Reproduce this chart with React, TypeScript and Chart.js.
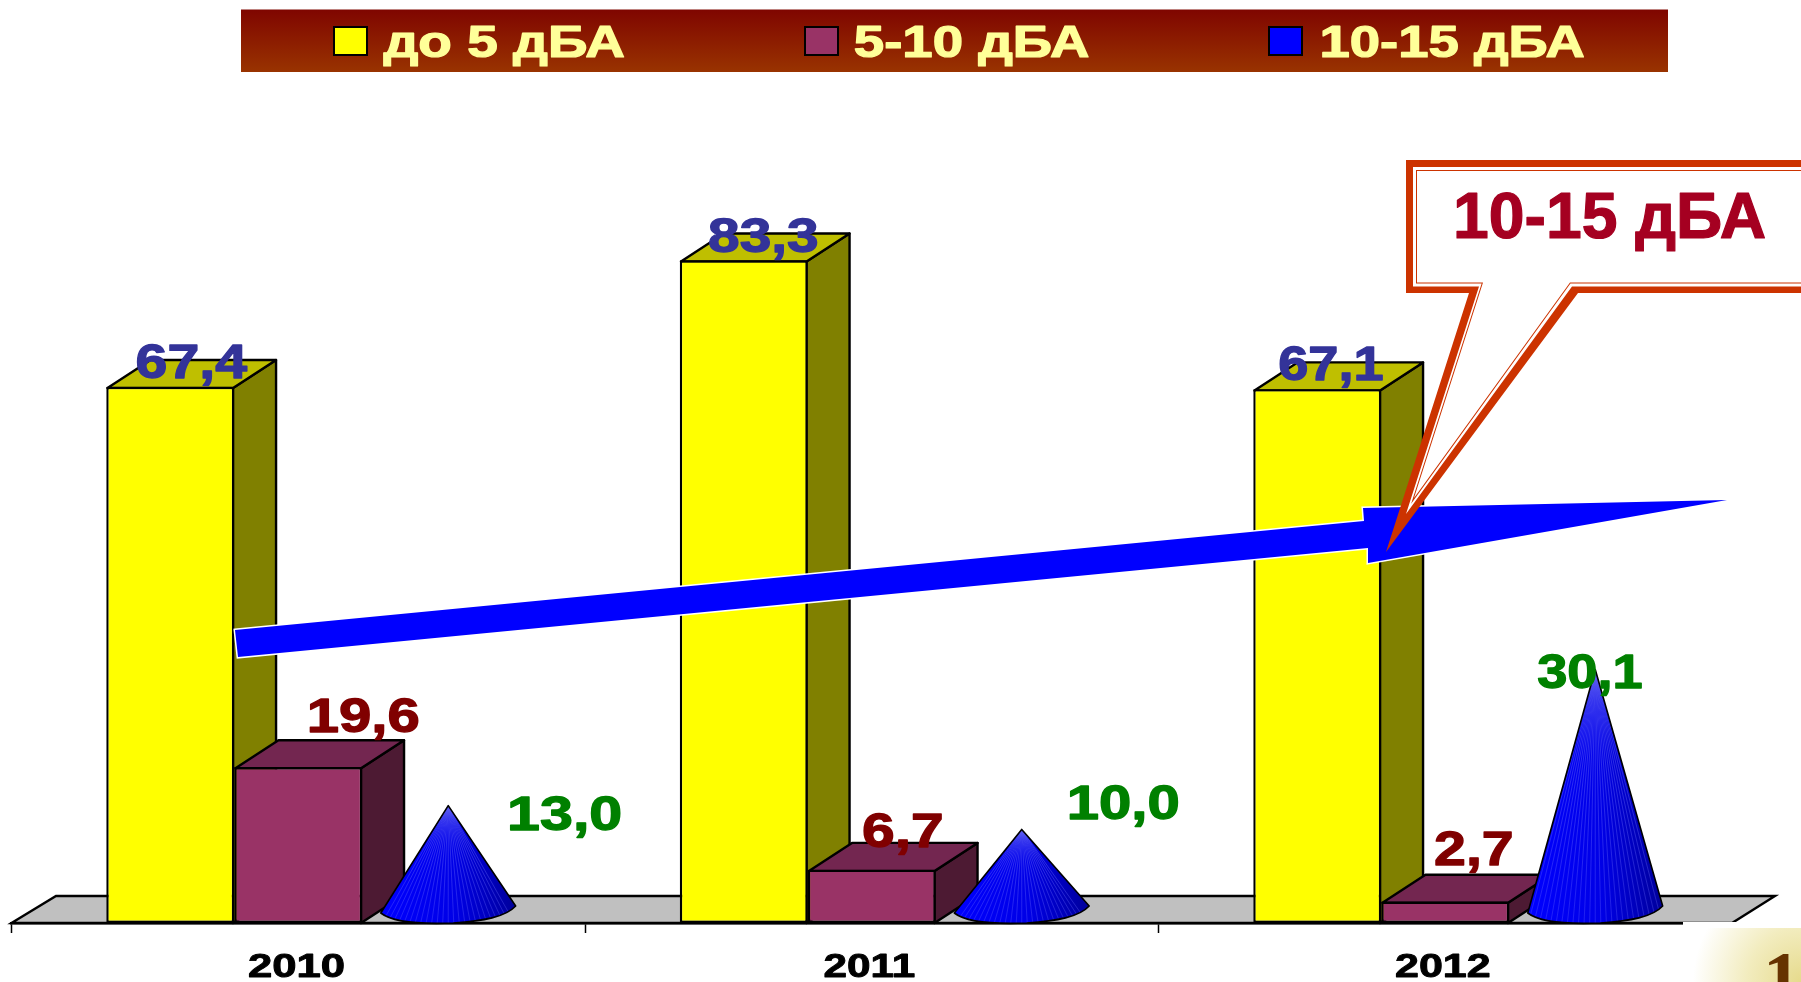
import React, { useEffect, useRef } from "react";
import { Chart, registerables } from "chart.js";

Chart.register(...registerables);

// ---- data ----
const categories = ["2010", "2011", "2012"];
const seriesNames = ["до 5 дБА", "5-10 дБА", "10-15 дБА"];
const upTo5 = [67.4, 83.3, 67.1];
const from5to10 = [19.6, 6.7, 2.7];
const from10to15 = [13.0, 10.0, 30.1];
const calloutText = "10-15 дБА";
const pageMark = "1";

// ---- styling ----
const W = 1801;
const H = 982;
const DX = 43;
const DY = 28;
const LINE = 2.4;
const SANS = '"Liberation Sans", Arial, sans-serif';
const frontColors = ["#ffff00", "#993366", "#0000ff"];
const topColors = ["#bfbf00", "#732650"];
const sideColors = ["#808000", "#4d1a33"];
const labelColors = ["#333399", "#800000", "#008000"];
// label placement relative to each mark: [dx, dy, ink width]
const labelPlacement = [
  [[21.5, -9, 110], [19.5, -8, 108], [13.5, -9, 103]],
  [[66, -35, 108], [31, -23, 79], [28.5, -36.5, 77]],
  [[139.5, 10.7, 110], [124.5, -24.5, 108], [16.5, 4.4, 103]],
];

const fmt = (v: number) => v.toFixed(1).replace(".", ",");

function fitText(
  ctx: CanvasRenderingContext2D,
  text: string,
  cx: number,
  inkW: number,
  baseline: number,
  size: number,
  color: string,
  weight = 0
) {
  ctx.save();
  ctx.font = `bold ${size}px ${SANS}`;
  ctx.textAlign = "left";
  ctx.textBaseline = "alphabetic";
  ctx.fillStyle = color;
  const m = ctx.measureText(text);
  const ink = m.actualBoundingBoxRight + m.actualBoundingBoxLeft;
  const centre = (m.actualBoundingBoxRight - m.actualBoundingBoxLeft) / 2;
  ctx.translate(cx, baseline);
  ctx.scale(inkW / ink, 1);
  ctx.fillText(text, -centre, 0);
  if (weight > 0) {
    ctx.lineJoin = "round";
    ctx.lineWidth = weight;
    ctx.strokeStyle = color;
    ctx.strokeText(text, -centre, 0);
  }
  ctx.restore();
}

function poly(ctx: CanvasRenderingContext2D, pts: number[][]) {
  ctx.beginPath();
  pts.forEach((p, i) => (i ? ctx.lineTo(p[0], p[1]) : ctx.moveTo(p[0], p[1])));
  ctx.closePath();
}

function drawFaces(ctx: CanvasRenderingContext2D, bar: any, i: number) {
  const l = bar.x - bar.width / 2 + LINE / 2;
  const r = bar.x + bar.width / 2 - LINE / 2;
  const t = bar.y + LINE / 2;
  const b = bar.base;
  ctx.lineWidth = LINE;
  ctx.strokeStyle = "#000";
  ctx.lineJoin = "round";
  poly(ctx, [[r, t], [r + DX, t - DY], [r + DX, b - DY], [r, b]]);
  ctx.fillStyle = sideColors[i];
  ctx.fill();
  ctx.stroke();
  poly(ctx, [[l, t], [l + DX, t - DY], [r + DX, t - DY], [r, t]]);
  ctx.fillStyle = topColors[i];
  ctx.fill();
  ctx.stroke();
}

function drawCone(ctx: CanvasRenderingContext2D, bar: any) {
  const cx = bar.x + DX / 2 + 0.5;
  const half = bar.width * 0.527;
  const apexY = bar.y - DY / 2;
  const b = bar.base;
  const xL = cx - half;
  const xR = cx + half;
  const outline = () => {
    ctx.beginPath();
    ctx.moveTo(cx, apexY);
    ctx.lineTo(xL, b - 10);
    ctx.bezierCurveTo(xL + 14, b + 1, cx - 20, b + 1, cx + 5, b);
    ctx.bezierCurveTo(cx + 35, b - 2, xR - 10, b - 6, xR, b - 17);
    ctx.closePath();
  };
  ctx.save();
  outline();
  const g = ctx.createLinearGradient(xL, 0, xR, 0);
  g.addColorStop(0, "#0000ff");
  g.addColorStop(0.55, "#0000e6");
  g.addColorStop(1, "#00009a");
  ctx.fillStyle = g;
  ctx.fill();
  ctx.clip();
  // fine ribs running from the apex to the base
  ctx.lineWidth = 0.8;
  const ribs = 24;
  for (let k = 0; k <= ribs; k++) {
    const x = xL + ((xR - xL) * k) / ribs;
    const rib = ctx.createLinearGradient(0, apexY, 0, b);
    rib.addColorStop(0, "rgba(90,90,240,0.7)");
    rib.addColorStop(1, "rgba(110,110,255,0.35)");
    ctx.strokeStyle = rib;
    ctx.beginPath();
    ctx.moveTo(cx, apexY);
    ctx.lineTo(x, b + 2);
    ctx.stroke();
  }
  ctx.restore();
  outline();
  ctx.lineWidth = 1.6;
  ctx.strokeStyle = "#000";
  ctx.stroke();
}

const floorPlugin = {
  id: "floor3d",
  beforeDatasetsDraw(chart: any) {
    const ctx = chart.ctx;
    const { left, right, bottom } = chart.chartArea;
    ctx.save();
    poly(ctx, [[left, bottom], [left + DX + 1.5, bottom - DY + 1], [right + DX, bottom - DY + 1], [right, bottom]]);
    ctx.fillStyle = "#c0c0c0";
    ctx.fill();
    ctx.lineWidth = LINE;
    ctx.strokeStyle = "#000";
    ctx.stroke();
    ctx.restore();
  },
  beforeDatasetDraw() {
    return false;
  },
  afterDatasetsDraw(chart: any) {
    const ctx = chart.ctx;
    ctx.save();
    [0, 1].forEach((i) => {
      chart.getDatasetMeta(i).data.forEach((bar: any) => {
        drawFaces(ctx, bar, i);
        bar.draw(ctx);
      });
    });
    chart.getDatasetMeta(2).data.forEach((bar: any) => drawCone(ctx, bar));
    ctx.restore();
  },
};

const annotationPlugin = {
  id: "annotations",
  afterDraw(chart: any) {
    const ctx: CanvasRenderingContext2D = chart.ctx;
    const x = chart.scales.x;
    ctx.save();

    // value labels
    chart.data.datasets.forEach((ds: any, i: number) => {
      chart.getDatasetMeta(i).data.forEach((bar: any, j: number) => {
        const [dx, dy, w] = labelPlacement[i][j];
        fitText(ctx, fmt(ds.data[j]), bar.x + dx, w, bar.y + dy, 49, labelColors[i], 1.3);
      });
    });

    // corner of the slide, which hides the end of the axis
    ctx.fillStyle = "#ffffff";
    ctx.fillRect(1683, 922, W - 1683, H - 922);
    const rg = ctx.createRadialGradient(W, H, 0, W, H, 108);
    rg.addColorStop(0, "#e6da8c");
    rg.addColorStop(0.5, "#f2ecbe");
    rg.addColorStop(1, "#ffffff");
    ctx.fillStyle = rg;
    ctx.fillRect(1689, 928, W - 1689, H - 928);
    ctx.save();
    ctx.font = 'bold 76px "Liberation Serif", serif';
    ctx.fillStyle = "#663300";
    ctx.textAlign = "left";
    ctx.fillText(pageMark, 1763, 1004);
    ctx.restore();

    // category labels
    categories.forEach((c, i) => {
      const cx = x.getPixelForValue(i) - 2;
      fitText(ctx, c, cx, i === 1 ? 90 : 94, 977, 33, "#000000", 0.9);
    });

    // legend band
    const lg = ctx.createLinearGradient(0, 9, 0, 72);
    lg.addColorStop(0, "#7f0500");
    lg.addColorStop(1, "#993300");
    ctx.fillStyle = lg;
    ctx.fillRect(241, 9.5, 1427, 62.5);
    const swatches = [333, 804, 1268];
    const centres = [503.75, 971.75, 1453];
    const widths = [240.5, 233.5, 262];
    seriesNames.forEach((name, i) => {
      ctx.fillStyle = frontColors[i];
      ctx.strokeStyle = "#000";
      ctx.lineWidth = 2;
      ctx.fillRect(swatches[i] + 1, 27, 33, 28);
      ctx.strokeRect(swatches[i] + 1, 27, 33, 28);
      fitText(ctx, name, centres[i], widths[i], 56.7, 44, "#ffff99", 1.2);
    });

    // trend arrow: halo first, so the thin tip stays blue
    poly(ctx, [[235, 630], [1364, 521], [1363, 508], [1727, 500], [1368, 563], [1368, 548], [238, 657]]);
    ctx.lineWidth = 3;
    ctx.lineJoin = "miter";
    ctx.strokeStyle = "#ffffff";
    ctx.stroke();
    ctx.fillStyle = "#0000ff";
    ctx.fill();

    // call-out
    poly(ctx, [[1406, 160], [1810, 160], [1810, 293], [1578, 293], [1386, 552], [1469, 293], [1406, 293]]);
    ctx.fillStyle = "#cc3300";
    ctx.fill();
    poly(ctx, [[1413, 167], [1810, 167], [1810, 286.5], [1572, 286.5], [1406, 514], [1479, 286.5], [1413, 286.5]]);
    ctx.fillStyle = "#ffffff";
    ctx.fill();
    poly(ctx, [[1417, 171], [1810, 171], [1810, 282.5], [1570, 282.5], [1414, 498], [1483, 282.5], [1417, 282.5]]);
    ctx.lineWidth = 2;
    ctx.strokeStyle = "#cc3300";
    ctx.stroke();
    ctx.fillStyle = "#ffffff";
    ctx.fill();
    fitText(ctx, calloutText, 1611, 308, 238, 64, "#a50021", 1.2);

    ctx.restore();
  },
};

export default function App() {
  const ref = useRef<HTMLCanvasElement | null>(null);
  useEffect(() => {
    if (!ref.current) return;
    const mk = (label: string, data: number[], i: number) => ({
      label,
      data,
      backgroundColor: frontColors[i],
      borderColor: "#000000",
      borderWidth: LINE,
      borderSkipped: false,
      categoryPercentage: 0.6695,
      barPercentage: 1,
    });
    const chart = new Chart(ref.current, {
      type: "bar",
      data: {
        labels: categories,
        datasets: [
          mk(seriesNames[0], upTo5, 0),
          mk(seriesNames[1], from5to10, 1),
          mk(seriesNames[2], from10to15, 2),
        ],
      },
      options: {
        animation: false,
        responsive: false,
        devicePixelRatio: 1,
        layout: { padding: { left: 11.5, right: 69, top: 127.5, bottom: 0 } },
        plugins: { legend: { display: false }, tooltip: { enabled: false } },
        scales: {
          y: { display: false, min: 0, max: 100 },
          x: {
            afterFit: (s: any) => {
              s.height = 59;
            },
            ticks: { display: false },
            border: { color: "#000000", width: LINE },
            grid: {
              offset: true,
              drawOnChartArea: false,
              drawTicks: true,
              tickLength: 10,
              tickWidth: 1.5,
              tickColor: "#000000",
            },
          },
        },
      },
      plugins: [floorPlugin, annotationPlugin],
    } as any);
    return () => chart.destroy();
  }, []);
  return (
    <div style={{ position: "fixed", left: 0, top: 0, width: W, height: H, background: "#fff" }}>
      <canvas ref={ref} width={W} height={H} style={{ display: "block" }} />
    </div>
  );
}
